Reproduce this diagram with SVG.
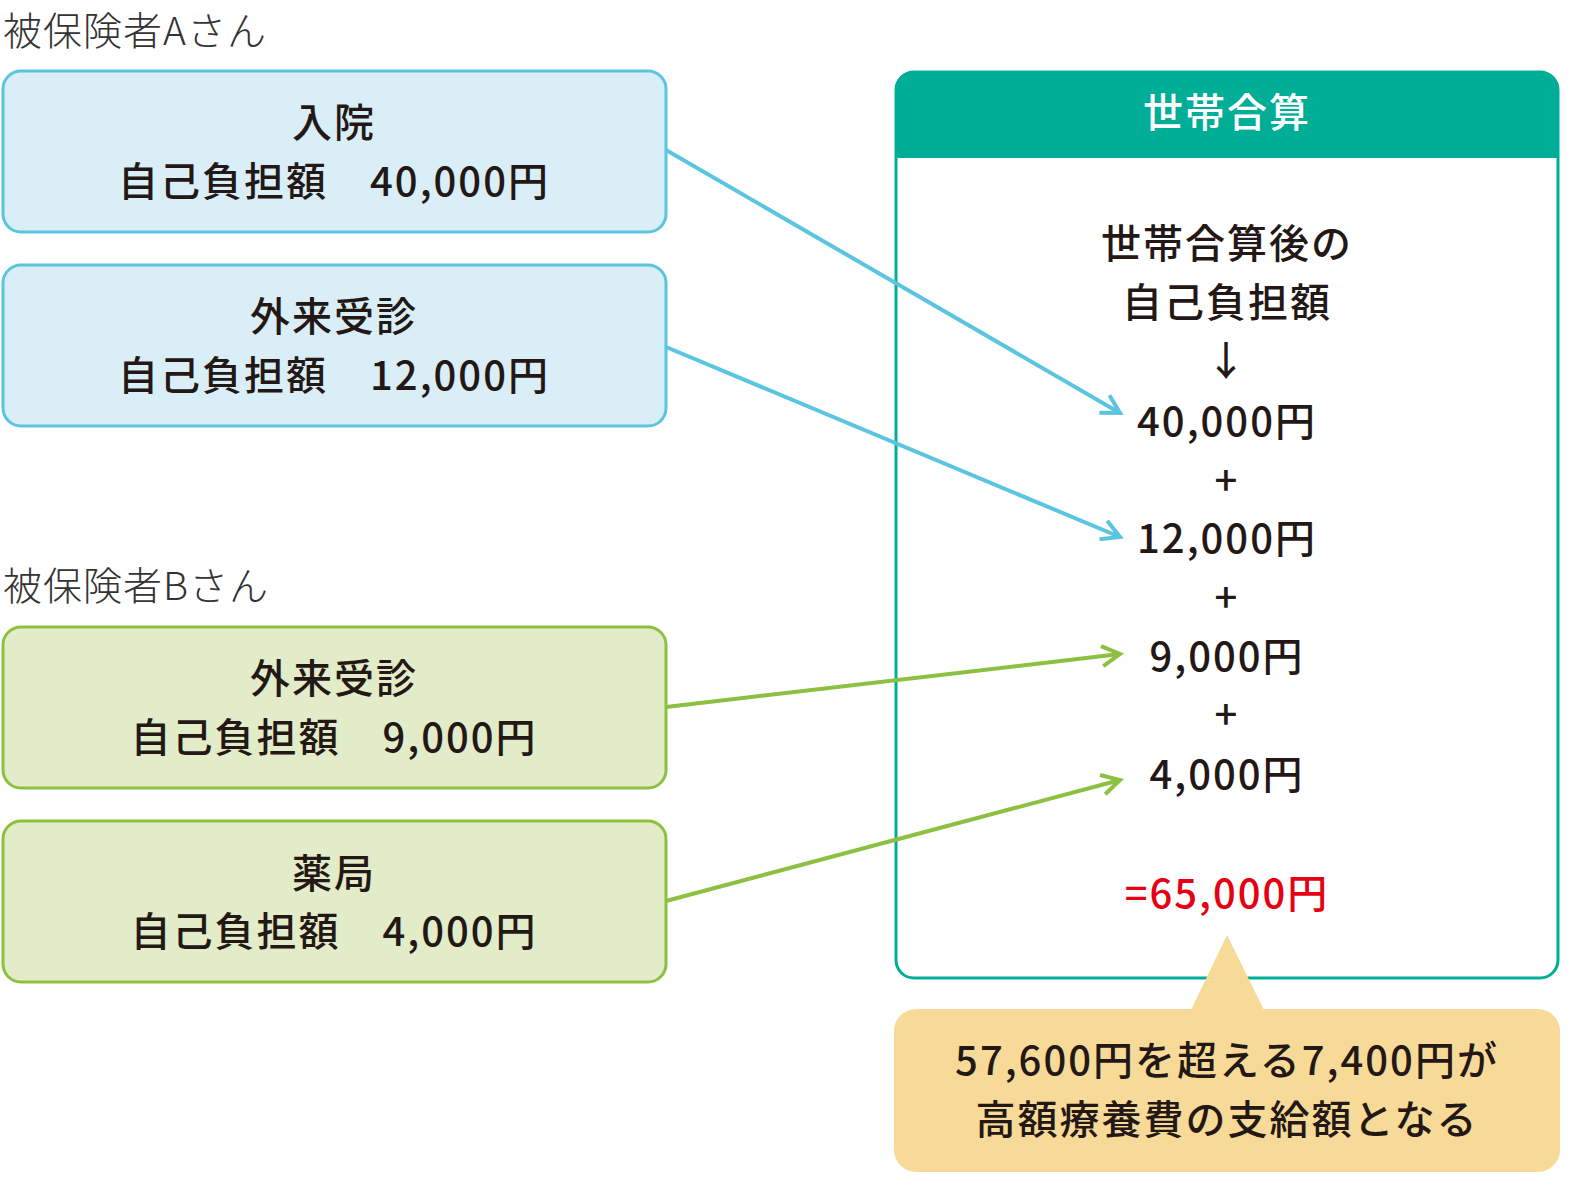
<svg xmlns="http://www.w3.org/2000/svg" width="1581" height="1199" viewBox="0 0 1581 1199">
<style>
text{font-family:"Noto Sans CJK JP","Noto Sans",sans-serif;fill:#231815}
.lbl{font-size:39px;font-weight:300;fill:#333;letter-spacing:1px}
.t{font-size:40px;font-weight:500;text-anchor:middle;letter-spacing:2px}
.blue{fill:#d9eef6;stroke:#5bc4df;stroke-width:3}
.green{fill:#e2ecc8;stroke:#8dc040;stroke-width:3}
.cb{stroke:#5bc4df;stroke-width:4;fill:none}
.cg{stroke:#8dc040;stroke-width:4;fill:none}
</style>
<defs>
<marker id="ab" viewBox="0 0 24 24" refX="20" refY="12" markerWidth="24" markerHeight="24" orient="auto" markerUnits="userSpaceOnUse"><path d="M2,2 L20,12 L2,22" fill="none" stroke="#5bc4df" stroke-width="4"/></marker>
<marker id="ag" viewBox="0 0 24 24" refX="20" refY="12" markerWidth="24" markerHeight="24" orient="auto" markerUnits="userSpaceOnUse"><path d="M2,2 L20,12 L2,22" fill="none" stroke="#8dc040" stroke-width="4"/></marker>
</defs>
<text class="lbl" x="3" y="45">被保険者Aさん</text>
<text class="lbl" x="3" y="600">被保険者Bさん</text>
<g id="a1"><rect class="blue" x="3" y="71" width="663" height="161" rx="18"/><text class="t" x="334" y="137">入院</text><text class="t" x="334" y="196">自己負担額　40,000円</text></g>
<g id="a2"><rect class="blue" x="3" y="265" width="663" height="161" rx="18"/><text class="t" x="334" y="331">外来受診</text><text class="t" x="334" y="390">自己負担額　12,000円</text></g>
<g id="b1"><rect class="green" x="3" y="627" width="663" height="161" rx="18"/><text class="t" x="334" y="693">外来受診</text><text class="t" x="334" y="752">自己負担額　9,000円</text></g>
<g id="b2"><rect class="green" x="3" y="821" width="663" height="161" rx="18"/><text class="t" x="334" y="888">薬局</text><text class="t" x="334" y="946">自己負担額　4,000円</text></g>
<g id="panel">
<rect x="896" y="72" width="662" height="906" rx="18" fill="#fff" stroke="#00ae97" stroke-width="3"/>
<path d="M896,158 V90 Q896,72 914,72 H1540 Q1558,72 1558,90 V158 Z" fill="#00ae97"/>
<text class="t" x="1227" y="127" style="fill:#fff">世帯合算</text>
<text class="t" x="1227" y="258">世帯合算後の</text>
<text class="t" x="1227" y="317">自己負担額</text>
<text class="t" x="1227" y="375">↓</text>
<text class="t" x="1227" y="436">40,000円</text>
<text class="t" x="1227" y="495">+</text>
<text class="t" x="1227" y="553">12,000円</text>
<text class="t" x="1227" y="612">+</text>
<text class="t" x="1227" y="671">9,000円</text>
<text class="t" x="1227" y="729">+</text>
<text class="t" x="1227" y="789">4,000円</text>
<text class="t" x="1227" y="908" style="fill:#e60012">=65,000円</text>
</g>
<g id="callout">
<path d="M1190,1012 L1227,935 L1265,1012 Z" fill="#f8da98"/>
<rect x="894" y="1009" width="666" height="163" rx="22" fill="#f8da98"/>
<text class="t" x="1227" y="1075">57,600円を超える7,400円が</text>
<text class="t" x="1227" y="1134">高額療養費の支給額となる</text>
</g>
<g id="connectors">
<line class="cb" x1="666" y1="150" x2="1120" y2="413" marker-end="url(#ab)"/>
<line class="cb" x1="666" y1="347" x2="1120" y2="537" marker-end="url(#ab)"/>
<line class="cg" x1="666" y1="707" x2="1120" y2="654" marker-end="url(#ag)"/>
<line class="cg" x1="666" y1="901" x2="1120" y2="780" marker-end="url(#ag)"/>
</g>
</svg>
